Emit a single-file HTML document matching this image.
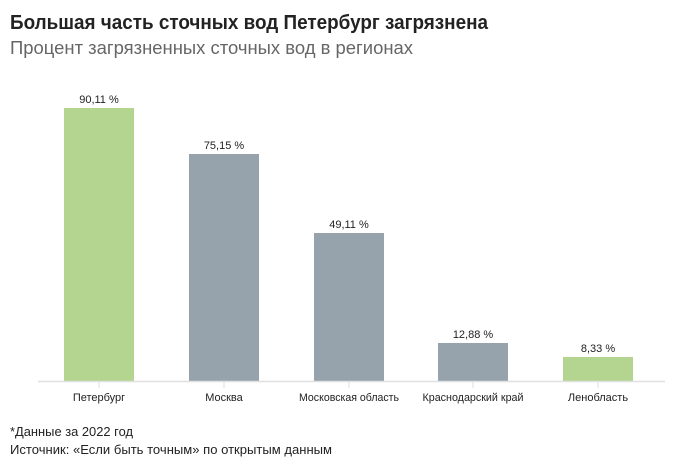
<!DOCTYPE html>
<html><head><meta charset="utf-8"><style>
body{margin:0;width:700px;height:467px;background:#fff;overflow:hidden;font-family:"Liberation Sans",sans-serif}
</style></head><body>
<svg width="700" height="467" xmlns="http://www.w3.org/2000/svg" font-family="Liberation Sans, sans-serif">
<text x="10" y="29" font-size="20" font-weight="bold" fill="#222" textLength="478" lengthAdjust="spacingAndGlyphs">Большая часть сточных вод Петербург загрязнена</text>
<text x="10" y="54" font-size="18" fill="#666" textLength="403" lengthAdjust="spacingAndGlyphs">Процент загрязненных сточных вод в регионах</text>
<g fill="#b3d590"><rect x="64" y="108" width="70" height="273"/><rect x="563" y="357" width="70" height="24"/></g>
<g fill="#96a3ad"><rect x="189" y="154" width="70" height="227"/><rect x="314" y="233" width="70" height="148"/><rect x="438" y="343" width="70" height="38"/></g>
<line x1="38" y1="381.5" x2="665" y2="381.5" stroke="#e0e0e0" stroke-width="1.5"/>
<g stroke="#ddd"><line x1="99" y1="382" x2="99" y2="388"/><line x1="224" y1="382" x2="224" y2="388"/><line x1="349" y1="382" x2="349" y2="388"/><line x1="473" y1="382" x2="473" y2="388"/><line x1="598" y1="382" x2="598" y2="388"/></g>
<g font-size="11" fill="#222" text-anchor="middle">
<text x="99" y="103">90,11 %</text><text x="224" y="149">75,15 %</text><text x="349" y="228">49,11 %</text><text x="473" y="338">12,88 %</text><text x="598" y="352">8,33 %</text>
<text x="99" y="401">Петербург</text><text x="224" y="401">Москва</text><text x="349" y="401" textLength="100" lengthAdjust="spacingAndGlyphs">Московская область</text><text x="473" y="401" textLength="101" lengthAdjust="spacingAndGlyphs">Краснодарский край</text><text x="598" y="401">Ленобласть</text>
</g>
<text x="10" y="436" font-size="13" fill="#222" textLength="123" lengthAdjust="spacingAndGlyphs">*Данные за 2022 год</text>
<text x="10" y="454" font-size="13" fill="#222" textLength="322" lengthAdjust="spacingAndGlyphs">Источник: «Если быть точным» по открытым данным</text>
</svg>
</body></html>
